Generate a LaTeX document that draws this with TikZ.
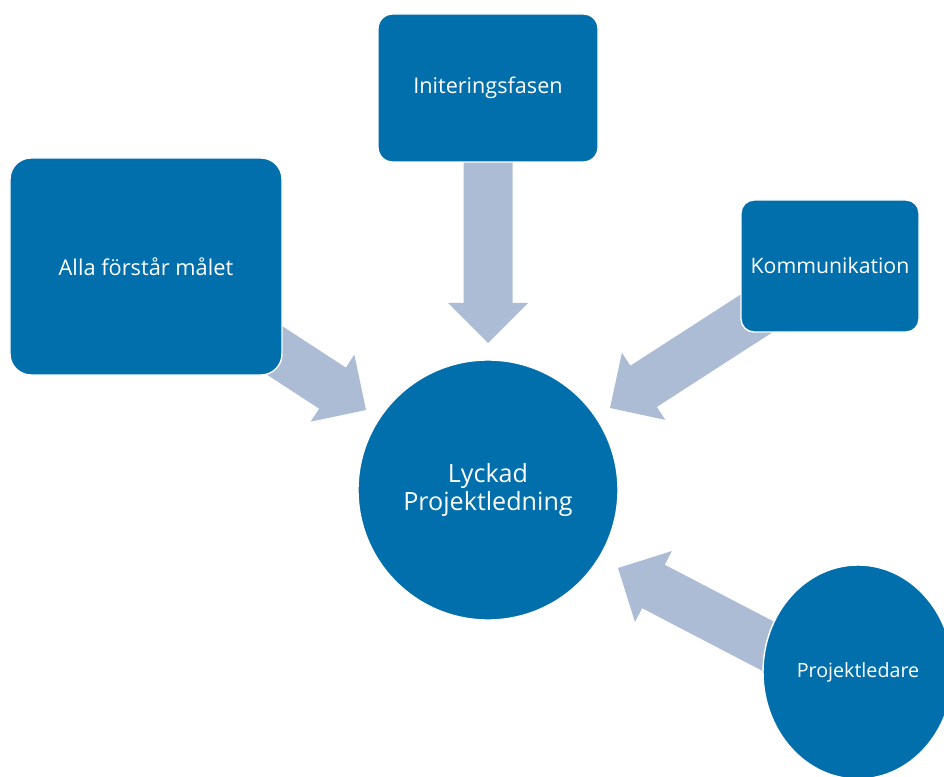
\documentclass[tikz,border=0pt]{standalone}
\usepackage{fontspec}
\setmainfont{Open Sans}
\usetikzlibrary{positioning, calc, shapes.geometric, backgrounds}
\definecolor{cBox}{RGB}{0,111,172}
\definecolor{cArr}{RGB}{173,188,213}

% block arrow from #1 to the tip #2
\newcommand{\blockarrow}[2]{%
  \fill[cArr] ($(#1)!0.49cm!90:(#2)$)
    -- ($(#2)!0.8cm!(#1)!0.49cm!90:(#2)$)
    -- ($(#2)!0.8cm!(#1)!0.8cm!90:(#2)$)
    -- (#2)
    -- ($(#2)!0.8cm!(#1)!0.8cm!-90:(#2)$)
    -- ($(#2)!0.8cm!(#1)!0.49cm!-90:(#2)$)
    -- ($(#1)!0.49cm!-90:(#2)$) -- cycle;}

\begin{document}
\begin{tikzpicture}[
    box/.style={draw=white, line width=0.8pt, fill=cBox, text=white, inner sep=0pt},
    roundbox/.style={box, rectangle, rounded corners=#1},
    round/.style={box, circle},
    oval/.style={box, ellipse}
  ]

    \useasboundingbox (0, 0) rectangle (18.88, 15.52);
    \clip (0, 0) rectangle (18.88, 15.52);

    % --- Outer boxes ---
    \node[roundbox=0.42cm, minimum width=5.44cm, minimum height=4.34cm, font=\fontsize{12.4}{15}\selectfont] (alla) at (2.92, 10.19) {Alla förstår målet};
    \node[roundbox=0.29cm, minimum width=4.4cm, minimum height=2.96cm, font=\fontsize{12.3}{15}\selectfont] (init) at (9.76, 13.76) {Initeringsfasen};
    \node[roundbox=0.26cm, minimum width=3.56cm, minimum height=2.64cm, font=\fontsize{12.1}{15}\selectfont] (komm) at (16.6, 10.2) {Kommunikation};

    % --- Centre ---
    \node[round, minimum size=5.2cm, align=center, font=\fontsize{14.3}{16}\selectfont] (lyckad) at (9.76, 5.72) {Lyckad\\Projektledning};

    % --- Bottom right ---
    \node[oval, minimum width=3.8cm, minimum height=4.28cm, font=\fontsize{11.2}{13}\selectfont] (proj) at (17.16, 2.08) {Projektledare};

    % --- Arrow tips ---
    \coordinate (tipI) at (9.76, 8.66);
    \coordinate (tipA) at (7.32, 7.32);
    \coordinate (tipK) at (12.2, 7.36);
    \coordinate (tipP) at (12.36, 4.16);
    \coordinate (tailP) at (16.62, 1.94);

    % --- Block arrows behind the boxes ---
    \begin{scope}[on background layer]
      \blockarrow{init.center}{tipI}
      \blockarrow{alla.center}{tipA}
      \blockarrow{komm.center}{tipK}
      \blockarrow{tailP}{tipP}
    \end{scope}

\end{tikzpicture}
\end{document}
